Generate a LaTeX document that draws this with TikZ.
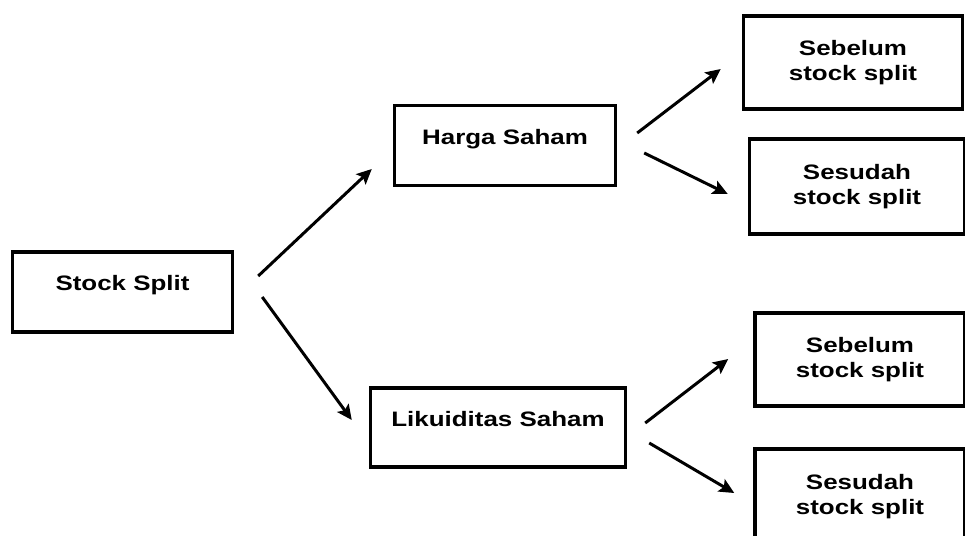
\documentclass[tikz,border=0pt]{standalone}
\usepackage{fontspec}
\setmainfont{Liberation Sans}[FakeStretch=1.24]
\usetikzlibrary{arrows.meta}

\begin{document}
\begin{tikzpicture}[x=0.02cm, y=-0.02cm,
  font=\fontsize{11.9}{14.2}\selectfont\bfseries,
  box/.style={draw, line width=2pt, align=center, inner sep=0pt},
  onebox/.style={box, text depth=10pt},
  arr/.style={-{Stealth[length=3mm, width=2.8mm, inset=0.6mm]}, line width=1.7pt}]
  \useasboundingbox (0,0) rectangle (965,535);
  % root and middle level
  \node[onebox, minimum width=4.4cm, minimum height=1.6cm] (stock) at (122.5,292) {Stock Split};
  \node[onebox, minimum width=4.42cm, minimum height=1.6cm] (harga) at (505,145.5) {Harga Saham};
  \node[onebox, minimum width=5.1cm, minimum height=1.58cm] (likuid) at (498,427.5) {Likuiditas Saham};
  % right level
  \node[box, minimum width=4.38cm, minimum height=1.86cm] (seb1) at (853,62.5) {Sebelum\\stock split};
  \node[box, minimum width=4.3cm, minimum height=1.9cm] (ses1) at (857,186.5) {Sesudah\\stock split};
  \node[box, minimum width=4.2cm, minimum height=1.86cm] (seb2) at (860,359.5) {Sebelum\\stock split};
  \node[box, minimum width=4.2cm, minimum height=1.9cm] (ses2) at (860,496.5) {Sesudah\\stock split};
  % arrows
  \draw[arr] ([shift={(24,-16)}]stock.east) -- ([shift={(-21,23.5)}]harga.west);
  \draw[arr] ([shift={(28,5)}]stock.east) -- ([shift={(-17,-7.5)}]likuid.west);
  \draw[arr] ([shift={(20,-12.5)}]harga.east) -- ([shift={(-21,6.5)}]seb1.west);
  \draw[arr] ([shift={(27,7.5)}]harga.east) -- ([shift={(-20,7.5)}]ses1.west);
  \draw[arr] ([shift={(18,-4.5)}]likuid.east) -- ([shift={(-25,-0.5)}]seb2.west);
  \draw[arr] ([shift={(22,15.5)}]likuid.east) -- ([shift={(-19,-3.5)}]ses2.west);
\end{tikzpicture}
\end{document}
